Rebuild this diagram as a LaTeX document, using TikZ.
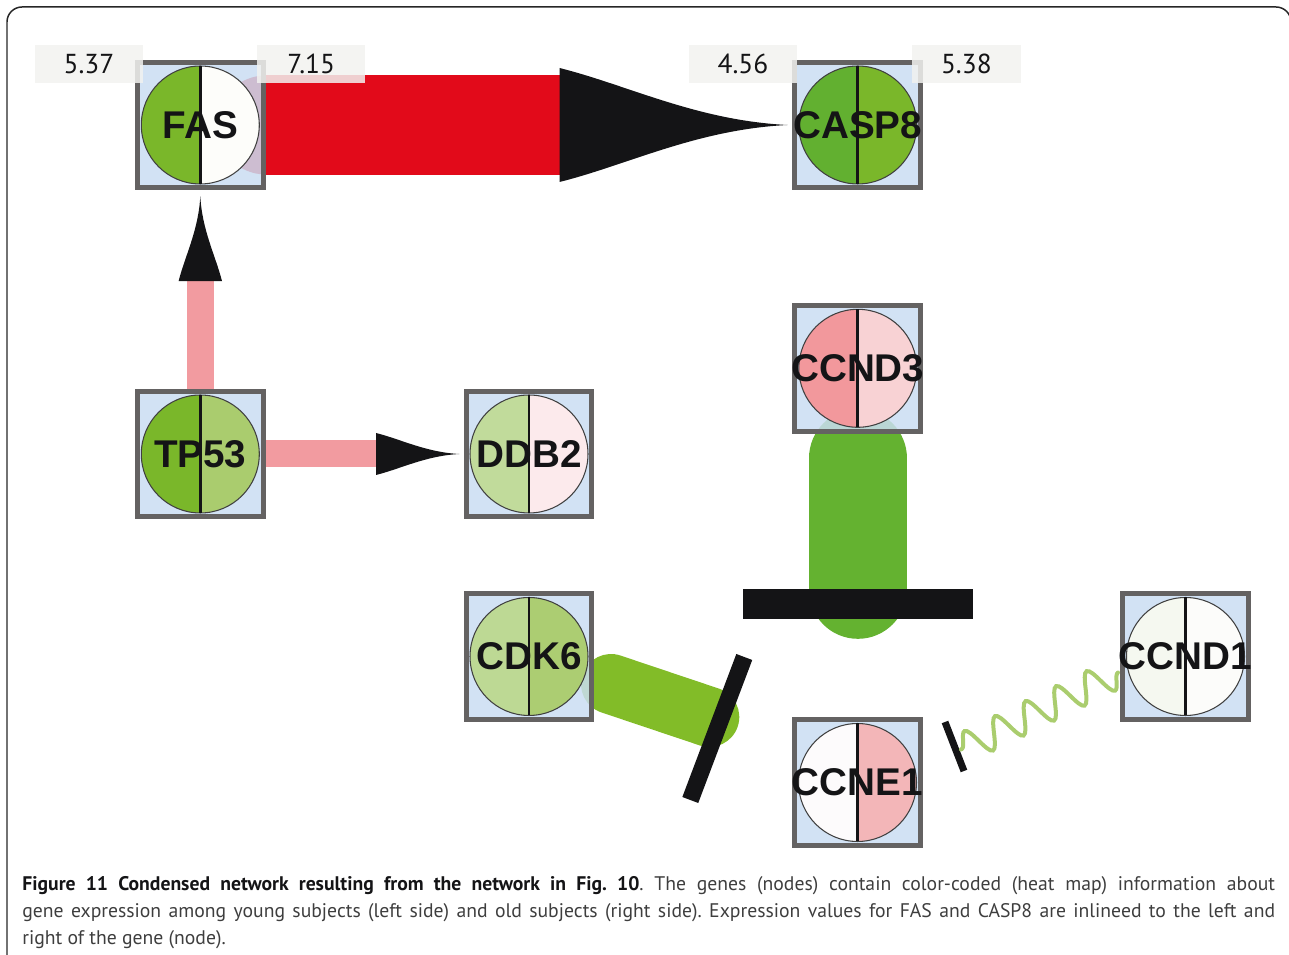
\documentclass[tikz,border=0pt]{standalone}
\usepackage{fontspec}
\usetikzlibrary{calc,decorations.pathmorphing}
\setmainfont{PT Sans}
\newfontfamily\genefont{Liberation Sans}
\frenchspacing

\definecolor{boxblue}{RGB}{202,221,242}
\definecolor{boxgray}{RGB}{100,98,98}
\definecolor{valgray}{RGB}{242,242,240}
\definecolor{inkblack}{RGB}{20,20,22}
\definecolor{capgray}{RGB}{62,62,62}
\definecolor{bandred}{RGB}{226,10,26}
\definecolor{bandpink}{RGB}{242,155,160}
\definecolor{bandgreen}{RGB}{100,178,48}
\definecolor{bandlime}{RGB}{130,188,40}
\definecolor{wavegreen}{RGB}{170,205,110}
% heat map, young (left) and old (right)
\definecolor{fasY}{RGB}{122,183,42}
\definecolor{fasO}{RGB}{253,253,250}
\definecolor{caspY}{RGB}{98,176,48}
\definecolor{caspO}{RGB}{122,183,42}
\definecolor{tpY}{RGB}{122,183,42}
\definecolor{tpO}{RGB}{170,204,110}
\definecolor{ddbY}{RGB}{193,219,155}
\definecolor{ddbO}{RGB}{252,234,236}
\definecolor{cndthreeY}{RGB}{242,152,156}
\definecolor{cndthreeO}{RGB}{248,210,212}
\definecolor{cdkY}{RGB}{189,217,148}
\definecolor{cdkO}{RGB}{172,205,114}
\definecolor{cndoneY}{RGB}{245,248,240}
\definecolor{cndoneO}{RGB}{252,252,250}
\definecolor{cneY}{RGB}{253,251,252}
\definecolor{cneO}{RGB}{243,182,184}

\pgfdeclarelayer{background}
\pgfsetlayers{background,main}

\tikzset{
  arrowhead/.pic={\fill[inkblack] (0,-1) .. controls (0.3,-0.7) and (0.6,-0.08) .. (1,0) .. controls (0.6,0.08) and (0.3,0.7) .. (0,1) -- cycle;}
}

% name, position, young colour, old colour
\newcommand{\gene}[4]{%
  \node[genebox] (#1) at (#2) {};
  \fill[#3] (#1.center) ++(0,-59) arc[start angle=90, end angle=270, radius=1.18cm] -- cycle;
  \fill[#4] (#1.center) ++(0,-59) arc[start angle=90, end angle=-90, radius=1.18cm] -- cycle;
  \draw[rim] (#1.center) circle[radius=1.18cm];
  \draw[divider] (#1.center) ++(0,-59) -- ++(0,118);
  \node[genetext] at (#1.center) {#1};
}

\begin{document}
\begin{tikzpicture}[x=0.02cm, y=-0.02cm,
    genebox/.style={rectangle, draw=boxgray, line width=0.1cm, fill=boxblue, fill opacity=0.85, minimum size=2.52cm, inner sep=0pt},
    genetext/.style={font=\genefont\bfseries\fontsize{22}{22}\selectfont, text=inkblack, inner sep=0pt},
    rim/.style={draw=black!75, line width=0.6pt},
    divider/.style={draw=inkblack, line width=1.7pt},
    valbox/.style={fill=valgray, fill opacity=0.85, text opacity=1, minimum width=2.17cm, minimum height=0.75cm, inner sep=0pt, font=\fontsize{15.6}{16}\selectfont, text=inkblack},
    caption/.style={anchor=base west, inner sep=0pt, text=capgray, font=\fontsize{11.2}{13}\selectfont}]
  \useasboundingbox (0,0) rectangle (1289,955);
  \draw[black!85, line width=0.85pt, rounded corners=0.3cm] (7,955) -- (7,7) -- (1291,7) -- (1291,40);

  \gene{FAS}{200.3,125}{fasY}{fasO}
  \gene{CASP8}{857.8,125}{caspY}{caspO}
  \gene{TP53}{200.3,454}{tpY}{tpO}
  \gene{DDB2}{529,454}{ddbY}{ddbO}
  \gene{CCND3}{857.8,368.3}{cndthreeY}{cndthreeO}
  \gene{CDK6}{529,656.5}{cdkY}{cdkO}
  \gene{CCND1}{1185.5,656.5}{cndoneY}{cndoneO}
  \gene{CCNE1}{857.5,782.5}{cneY}{cneO}

  % expression values
  \node[valbox, anchor=east] (fasyoung) at ($(FAS.north west)+(8.8,4.5)$) {5.37};
  \node[valbox, anchor=west] (fasold) at ($(FAS.north east)+(-9.2,4.5)$) {7.15};
  \node[valbox, anchor=east] (caspyoung) at ($(CASP8.north west)+(5.2,4.5)$) {4.56};
  \node[valbox, anchor=west] (caspold) at ($(CASP8.north east)+(-11.5,4.5)$) {5.38};

  \begin{pgfonlayer}{background}
    \fill[bandred] (FAS.east) circle[radius=0.99cm];
    \draw[bandred, line width=1.986cm] (FAS.east) -- ($(CASP8.west)+(-232.8,0)$) coordinate (fashead);
    \draw[bandpink, line width=0.55cm] (TP53.north) -- ($(FAS.south)+(0,90.6)$) coordinate (tphead);
    \draw[bandpink, line width=0.54cm] (TP53.east) -- ($(DDB2.west)+(-87.5,0)$) coordinate (ddbhead);
    \draw[bandgreen, line width=1.97cm, line cap=round] ($(CCND3.south)+(0,24.5)$) -- ($(CCND3.south)+(0,155.8)$) coordinate (cndbar);
    \draw[bandlime, line width=1.2cm, line cap=round] ($(CDK6.east)+(16.5,27.5)$) -- ($(CDK6.east)+(114.8,60.5)$) coordinate (cdkbar);
  \end{pgfonlayer}

  \pic[xscale=228, yscale=57] at (fashead) {arrowhead};
  \pic[rotate=90, xscale=85, yscale=21.7] at (tphead) {arrowhead};
  \pic[xscale=83.4, yscale=21] at (ddbhead) {arrowhead};
  \fill[inkblack] ($(cndbar)+(-115.3,-0.6)$) rectangle ++(230.7,30);
  \draw[inkblack, line width=0.34cm] ($(cdkbar)+(35,-60)$) -- ($(cdkbar)+(-19,83)$);
  \coordinate (cnebar) at ($(CCNE1.east)+(32,-36)$);
  \draw[inkblack, line width=0.14cm] ($(cnebar)+(-10,-24.5)$) -- ($(cnebar)+(9,24.5)$);
  \draw[wavegreen, line width=0.08cm, line cap=round, decorate, decoration={snake, segment length=0.68cm, amplitude=0.3cm}] ($(CCND1.west)+(-2,16)$) -- ($(cnebar)+(6,3)$);

  \node[caption] (caption1) at (22,891) {\makebox[25.06cm][s]{\textcolor{inkblack}{\bfseries Figure 11 Condensed network resulting from the network in Fig. 10}. The genes (nodes) contain color-coded (heat map) information about}};
  \node[caption] (caption2) at (22,918) {\makebox[25.06cm][s]{gene expression among young subjects (left side) and old subjects (right side). Expression values for FAS and CASP8 are inlineed to the left and}};
  \node[caption] (caption3) at (22,945) {right of the gene (node).};
\end{tikzpicture}
\end{document}
